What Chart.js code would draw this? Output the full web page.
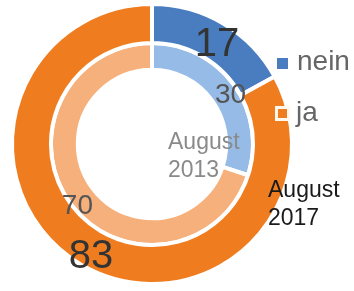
<!DOCTYPE html>
<html>
<head>
<meta charset="utf-8">
<script src="https://cdn.jsdelivr.net/npm/chart.js@4"></script>
<style>
  html, body { margin: 0; padding: 0; background: #fff; }
  canvas { display: block; }
</style>
</head>
<body>
<canvas id="ringChart" width="354" height="291"></canvas>
<script>
// Daten
var categories = ['nein', 'ja'];
var years = ['August 2017', 'August 2013'];   // aussen, innen
var values2017 = [17, 83];
var values2013 = [30, 70];

var font = '"Liberation Sans", Arial, sans-serif';

// Werte + Beschriftungen
var ringLabels = {
    id: 'ringLabels',
    afterDatasetsDraw: function (chart) {
        var ctx = chart.ctx;
        ctx.save();
        ctx.textAlign = 'center';
        ctx.textBaseline = 'middle';
        chart.data.datasets.forEach(function (ds, i) {
            var meta = chart.getDatasetMeta(i);
            meta.data.forEach(function (arc, j) {
                var p = arc.getProps(['x', 'y', 'startAngle', 'endAngle', 'innerRadius', 'outerRadius'], true);
                var a = (p.startAngle + p.endAngle) / 2;
                var r = (p.innerRadius + p.outerRadius) / 2 + (i === 0 ? 3 : 7);
                ctx.font = (i === 0 ? '40px ' : '28px ') + font;
                ctx.fillStyle = i === 0 ? '#333333' : '#555555';
                ctx.fillText(ds.data[j], p.x + Math.cos(a) * r + 2, p.y + Math.sin(a) * r + 7);
            });
        });

        // Jahr innen / aussen
        ctx.textAlign = 'left';
        ctx.textBaseline = 'alphabetic';
        ctx.font = '23px ' + font;
        ctx.fillStyle = '#8a8a8a';
        var inner = years[1].split(' ');
        ctx.fillText(inner[0], 168, 149);
        ctx.fillText(inner[1], 168, 177);
        ctx.fillStyle = '#1a1a1a';
        var outer = years[0].split(' ');
        ctx.fillText(outer[0], 268, 197);
        ctx.fillText(outer[1], 268, 225);

        // Legende
        ctx.font = '28px ' + font;
        ctx.fillStyle = '#666666';
        ctx.fillText(categories[0], 297, 70);
        ctx.fillText(categories[1], 296, 121);
        ctx.fillStyle = '#4a7dc0';
        ctx.fillRect(277, 58, 11, 11);
        ctx.fillStyle = '#fff8ee';
        ctx.fillRect(275, 106, 15, 15);
        ctx.fillStyle = '#ef7d1f';
        ctx.fillRect(278, 109, 9, 9);
        ctx.restore();
    }
};

var ctx = document.getElementById('ringChart').getContext('2d');
var ringChart = new Chart(ctx, {
    type: 'doughnut',
    data: {
        labels: categories,
        datasets: [{
            label: years[0],
            data: values2017,
            backgroundColor: ['#4a7dc0', '#ef7d1f'],
            borderColor: '#ffffff',
            borderWidth: 4,
            weight: 1.45
        }, {
            label: years[1],
            data: values2013,
            backgroundColor: ['#95bbe6', '#f5b07b'],
            borderColor: '#ffffff',
            borderWidth: 4,
            weight: 1
        }]
    },
    options: {
        responsive: false,
        animation: false,
        cutout: '53%',
        layout: {
            padding: { left: 10, top: 1, right: 60, bottom: 4 }
        },
        plugins: {
            legend: { display: false },
            tooltip: { enabled: false }
        }
    },
    plugins: [ringLabels]
});
</script>
</body>
</html>
